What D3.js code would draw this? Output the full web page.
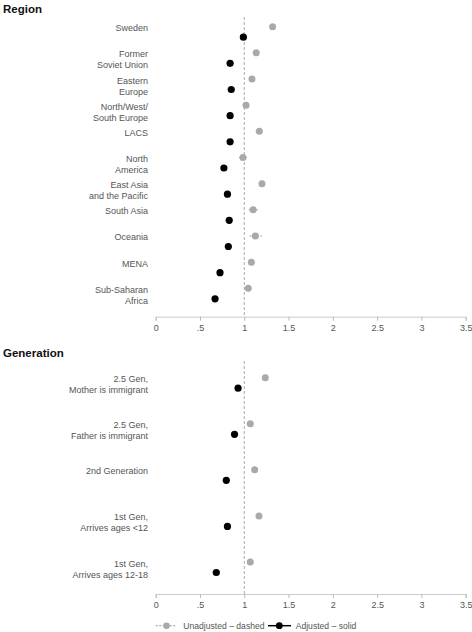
<!DOCTYPE html>
<html><head><meta charset="utf-8">
<script src="https://cdn.jsdelivr.net/npm/d3@7"></script>
<style>
html,body{margin:0;padding:0;background:#fff;}
svg{display:block;font-family:"Liberation Sans",Arial,Helvetica,sans-serif;}
</style></head>
<body>
<svg id="chart" width="472" height="632"></svg>
<script>
// ---- data ----
const regions = ["Sweden", "Former\nSoviet Union", "Eastern\nEurope", "North/West/\nSouth Europe", "LACS",
  "North\nAmerica", "East Asia\nand the Pacific", "South Asia", "Oceania", "MENA", "Sub-Saharan\nAfrica"];
const regionUnadj   = [1.32, 1.135, 1.087, 1.02, 1.17, 0.985, 1.20, 1.10, 1.125, 1.08, 1.045];
const regionUnadjLo = [1.31, 1.125, 1.075, 1.01, 1.13, 0.94, 1.19, 1.05, 1.06, 1.07, 1.03];
const regionUnadjHi = [1.33, 1.145, 1.10, 1.03, 1.21, 1.03, 1.21, 1.16, 1.20, 1.09, 1.06];
const regionAdj     = [0.99, 0.84, 0.853, 0.84, 0.84, 0.77, 0.81, 0.83, 0.82, 0.726, 0.67];

const generations = ["2.5 Gen,\nMother is immigrant", "2.5 Gen,\nFather is immigrant", "2nd Generation",
  "1st Gen,\nArrives ages <12", "1st Gen,\nArrives ages 12-18"];
const genUnadj = [1.237, 1.068, 1.117, 1.166, 1.068];
const genAdj   = [0.93, 0.89, 0.797, 0.81, 0.684];

const xTicks = [0, 0.5, 1, 1.5, 2, 2.5, 3, 3.5];
const xTickLabels = ["0", ".5", "1", "1.5", "2", "2.5", "3", "3.5"];
const legendLabels = ["Unadjusted \u2013 dashed", "Adjusted \u2013 solid"];

// ---- drawing ----
const svg = d3.select("#chart");
const x = d3.scaleLinear().domain([0, 3.5]).range([155.7, 465.7]);
const GREY = "#a9a9a9", BLACK = "#000", TXT = "#555";
const adjOffset = 10.5;

function panel(title, titleY, cats, unadj, adj, lo, hi, yRange, refTop, axisY) {
  const g = svg.append("g");
  g.append("text").attr("x", 3).attr("y", titleY).attr("font-size", 11.5)
    .attr("font-weight", "bold").attr("fill", "#111").text(title);
  const y = d3.scalePoint().domain(cats).range(yRange);

  // axis
  const axis = d3.axisBottom(x).tickValues(xTicks)
    .tickFormat((d, i) => xTickLabels[i]).tickSize(4).tickPadding(4);
  const ax = g.append("g").attr("transform", `translate(0,${axisY})`).call(axis);
  ax.select(".domain").attr("stroke", "#ccc").attr("stroke-width", 1);
  ax.selectAll(".tick line").attr("stroke", "#bbb");
  ax.selectAll(".tick text").attr("fill", TXT).attr("font-size", 9)
    .attr("font-family", '"Liberation Sans",Arial,sans-serif');

  // reference line at 1
  g.append("line").attr("x1", x(1)).attr("x2", x(1)).attr("y1", refTop).attr("y2", axisY)
    .attr("stroke", "#aaa").attr("stroke-width", 1).attr("stroke-dasharray", "3,2");

  // category labels
  cats.forEach((c, i) => {
    const lines = c.split("\n");
    const t = g.append("text").attr("text-anchor", "end").attr("font-size", 9).attr("fill", TXT)
      .attr("x", 148).attr("y", y(c) + 1.5).attr("dominant-baseline", "central");
    lines.forEach((ln, k) => t.append("tspan").attr("x", 148).attr("dy", k === 0 ? 0 : 11).text(ln));
  });

  // CIs unadjusted
  if (lo) {
    g.selectAll(".ci").data(cats).join("line")
      .attr("x1", (d, i) => x(lo[i])).attr("x2", (d, i) => x(hi[i]))
      .attr("y1", d => y(d)).attr("y2", d => y(d))
      .attr("stroke", GREY).attr("stroke-width", 1.2).attr("stroke-dasharray", "2,1.5");
  }
  g.selectAll(".u").data(cats).join("circle")
    .attr("cx", (d, i) => x(unadj[i])).attr("cy", d => y(d)).attr("r", 3.5).attr("fill", GREY);
  g.selectAll(".a").data(cats).join("circle")
    .attr("cx", (d, i) => x(adj[i])).attr("cy", d => y(d) + adjOffset).attr("r", 3.6).attr("fill", BLACK);
}

panel("Region", 13, regions, regionUnadj, regionAdj, regionUnadjLo, regionUnadjHi, [26.7, 288.3], 17, 316.7);
panel("Generation", 357, generations, genUnadj, genAdj, null, null, [377.7, 562], 361, 594);

// legend
const ly = 625.7;
const lg = svg.append("g");
lg.append("line").attr("x1", 155.7).attr("x2", 176).attr("y1", ly).attr("y2", ly)
  .attr("stroke", GREY).attr("stroke-width", 1.2).attr("stroke-dasharray", "2,1.5");
lg.append("circle").attr("cx", 166.5).attr("cy", ly).attr("r", 3.3).attr("fill", GREY);
lg.append("text").attr("x", 183.3).attr("y", ly).attr("dominant-baseline", "central")
  .attr("font-size", 8.6).attr("fill", TXT).text(legendLabels[0]);
lg.append("line").attr("x1", 268).attr("x2", 291).attr("y1", ly).attr("y2", ly)
  .attr("stroke", BLACK).attr("stroke-width", 1.5);
lg.append("circle").attr("cx", 279.3).attr("cy", ly).attr("r", 3.4).attr("fill", BLACK);
lg.append("text").attr("x", 295.7).attr("y", ly).attr("dominant-baseline", "central")
  .attr("font-size", 8.6).attr("fill", TXT).text(legendLabels[1]);
</script>
</body></html>
